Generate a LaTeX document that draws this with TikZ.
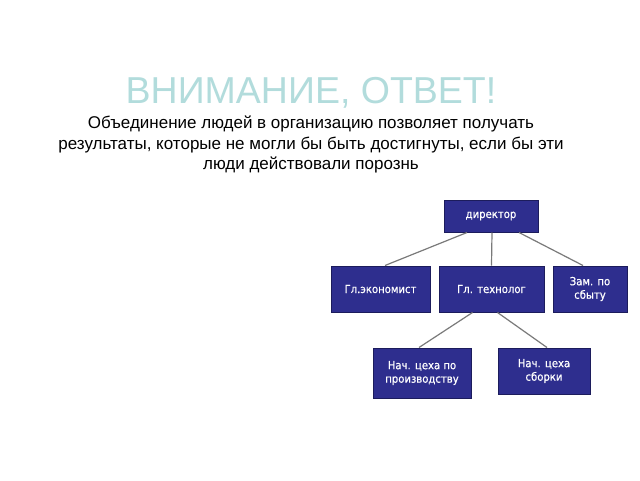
\documentclass[tikz,border=0pt]{standalone}
\usepackage{fontspec}
\setmainfont{Liberation Sans}
\newfontfamily\boxfont{DejaVu Sans Condensed}[FakeBold=0.6]
\definecolor{titlecol}{HTML}{B2DCDC}
\definecolor{boxfill}{HTML}{2E2E8E}
\definecolor{boxline}{HTML}{1C1C5C}
\definecolor{linkcol}{HTML}{7A7A7A}
\begin{document}
\begin{tikzpicture}[x=1pt,y=-1pt,
  orgbox/.style={draw=boxline, line width=1pt, fill=boxfill, text=white,
    font=\boxfont\fontsize{11.2}{13.5}\selectfont, align=center, inner sep=0pt},
  link/.style={draw=linkcol, line width=1.2pt}]
\useasboundingbox[fill=white] (0,0) rectangle (640,480);
\node[text=titlecol, font=\fontsize{37.5}{40}\selectfont, anchor=base, inner sep=0pt] (title) at (311,103) {ВНИМАНИЕ, ОТВЕТ!};
\node[font=\fontsize{17}{20.5}\selectfont, align=center, anchor=base, inner sep=0pt] (body) at (311,169.5)
  {Объединение людей в организацию позволяет получать\\результаты, которые не могли бы быть достигнуты, если бы эти\\люди действовали порознь};
\node[orgbox, minimum width=94pt, minimum height=32pt] (dir) at (491,216) {директор};
\node[orgbox, minimum width=99pt, minimum height=46pt] (econ) at (380.5,289) {Гл.экономист};
\node[orgbox, minimum width=105pt, minimum height=46pt] (tech) at (491.5,289) {Гл. технолог};
\node[orgbox, minimum width=74pt, minimum height=46pt] (sales) at (590,289) {Зам. по\\сбыту};
\node[orgbox, minimum width=98pt, minimum height=50pt] (prod) at (422,373) {Нач. цеха по\\производству};
\node[orgbox, minimum width=92pt, minimum height=46pt] (asm) at (544,371) {Нач. цеха\\сборки};
\draw[link] ([xshift=-24pt]dir.south) -- ([xshift=4.5pt]econ.north);
\draw[link] ([xshift=1pt]dir.south) -- (tech.north);
\draw[link] ([xshift=28pt]dir.south) -- ([xshift=-7pt]sales.north);
\draw[link] ([xshift=-19pt]tech.south) -- ([xshift=-3pt]prod.north);
\draw[link] ([xshift=6pt]tech.south) -- ([xshift=3pt]asm.north);
\end{tikzpicture}
\end{document}
